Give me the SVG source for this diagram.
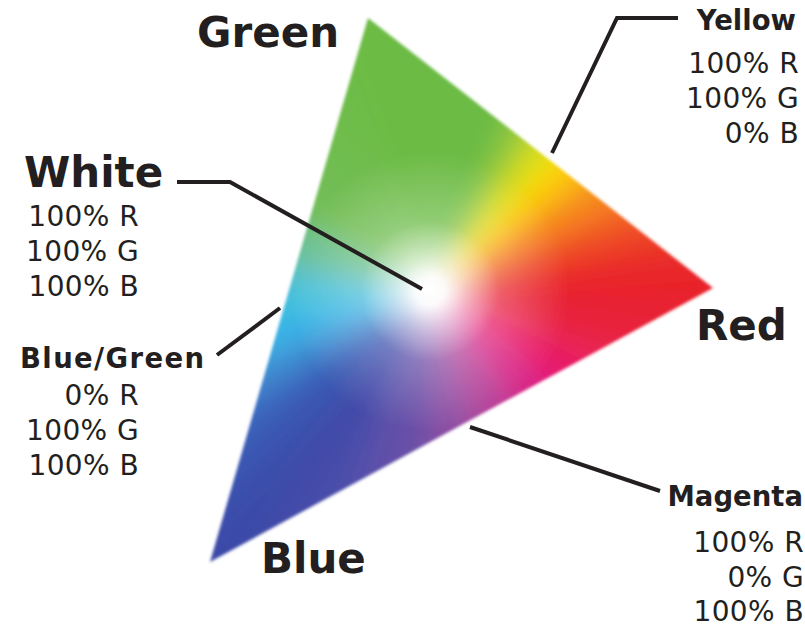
<svg xmlns="http://www.w3.org/2000/svg" width="805" height="632" viewBox="0 0 805 632">
<style>
.big{font-family:"DejaVu Sans","Verdana",sans-serif;font-weight:bold;font-size:42px;fill:#231f20}
.lab{font-family:"DejaVu Sans","Verdana",sans-serif;font-weight:bold;font-size:27.5px;fill:#231f20}
.val{font-family:"DejaVu Sans","Verdana",sans-serif;font-size:28px;letter-spacing:0.4px;fill:#231f20}
.lead{fill:none;stroke:#231f20;stroke-width:4;stroke-linejoin:miter}
</style>
<defs>
<clipPath id="tri"><polygon points="368,18 713,288 210,562"/></clipPath>
<filter id="mix" filterUnits="userSpaceOnUse" x="-120" y="-250" width="1100" height="1100"><feGaussianBlur stdDeviation="11"/></filter>
<filter id="soft" filterUnits="userSpaceOnUse" x="150" y="0" width="620" height="600"><feGaussianBlur stdDeviation="1.8"/></filter>
<radialGradient id="wh" gradientUnits="userSpaceOnUse" cx="430" cy="291" r="140">
<stop offset="0" stop-color="#fff" stop-opacity="1"/>
<stop offset="0.1" stop-color="#fff" stop-opacity="0.97"/>
<stop offset="0.25" stop-color="#fff" stop-opacity="0.68"/>
<stop offset="0.5" stop-color="#fff" stop-opacity="0.25"/>
<stop offset="1" stop-color="#fff" stop-opacity="0"/>
</radialGradient>
<linearGradient id="w1" gradientUnits="userSpaceOnUse" x1="680" y1="291" x2="667.8" y2="368.3"><stop offset="0" stop-color="#e8202a"/><stop offset="1" stop-color="#e8244a"/></linearGradient>
<linearGradient id="w2" gradientUnits="userSpaceOnUse" x1="667.8" y1="368.3" x2="634.8" y2="434.4"><stop offset="0" stop-color="#e8244a"/><stop offset="1" stop-color="#e8197a"/></linearGradient>
<linearGradient id="w3" gradientUnits="userSpaceOnUse" x1="634.8" y1="434.4" x2="580.5" y2="490.7"><stop offset="0" stop-color="#e8197a"/><stop offset="1" stop-color="#c8318f"/></linearGradient>
<linearGradient id="w4" gradientUnits="userSpaceOnUse" x1="580.5" y1="490.7" x2="507.3" y2="528.8"><stop offset="0" stop-color="#c8318f"/><stop offset="1" stop-color="#a04a9f"/></linearGradient>
<linearGradient id="w5" gradientUnits="userSpaceOnUse" x1="507.3" y1="528.8" x2="430" y2="541"><stop offset="0" stop-color="#a04a9f"/><stop offset="1" stop-color="#7c52a6"/></linearGradient>
<linearGradient id="w6" gradientUnits="userSpaceOnUse" x1="430" y1="541" x2="336.3" y2="522.8"><stop offset="0" stop-color="#7c52a6"/><stop offset="1" stop-color="#4e4eaa"/></linearGradient>
<linearGradient id="w7" gradientUnits="userSpaceOnUse" x1="336.3" y1="522.8" x2="269.3" y2="482.5"><stop offset="0" stop-color="#4e4eaa"/><stop offset="1" stop-color="#3a4aa8"/></linearGradient>
<linearGradient id="w8" gradientUnits="userSpaceOnUse" x1="269.3" y1="482.5" x2="225.2" y2="434.4"><stop offset="0" stop-color="#3a4aa8"/><stop offset="1" stop-color="#3b64bc"/></linearGradient>
<linearGradient id="w9" gradientUnits="userSpaceOnUse" x1="225.2" y1="434.4" x2="199.9" y2="388.7"><stop offset="0" stop-color="#3b64bc"/><stop offset="1" stop-color="#3fa0dc"/></linearGradient>
<linearGradient id="w10" gradientUnits="userSpaceOnUse" x1="199.9" y1="388.7" x2="183.1" y2="330.1"><stop offset="0" stop-color="#3fa0dc"/><stop offset="1" stop-color="#36c0ea"/></linearGradient>
<linearGradient id="w11" gradientUnits="userSpaceOnUse" x1="183.1" y1="330.1" x2="183.1" y2="251.9"><stop offset="0" stop-color="#36c0ea"/><stop offset="1" stop-color="#5cc0c4"/></linearGradient>
<linearGradient id="w12" gradientUnits="userSpaceOnUse" x1="183.1" y1="251.9" x2="215.7" y2="162.2"><stop offset="0" stop-color="#5cc0c4"/><stop offset="1" stop-color="#76bf5e"/></linearGradient>
<linearGradient id="w13" gradientUnits="userSpaceOnUse" x1="215.7" y1="162.2" x2="344.5" y2="56.1"><stop offset="0" stop-color="#76bf5e"/><stop offset="1" stop-color="#6cbb45"/></linearGradient>
<linearGradient id="w15" gradientUnits="userSpaceOnUse" x1="523.7" y1="59.2" x2="562.5" y2="79"><stop offset="0" stop-color="#6cbb45"/><stop offset="1" stop-color="#aed136"/></linearGradient>
<linearGradient id="w16" gradientUnits="userSpaceOnUse" x1="562.5" y1="79" x2="603.7" y2="111.2"><stop offset="0" stop-color="#aed136"/><stop offset="1" stop-color="#ffe500"/></linearGradient>
<linearGradient id="w17" gradientUnits="userSpaceOnUse" x1="603.7" y1="111.2" x2="637.3" y2="151.2"><stop offset="0" stop-color="#ffe500"/><stop offset="1" stop-color="#f8a21c"/></linearGradient>
<linearGradient id="w18" gradientUnits="userSpaceOnUse" x1="637.3" y1="151.2" x2="663.4" y2="201.4"><stop offset="0" stop-color="#f8a21c"/><stop offset="1" stop-color="#f26222"/></linearGradient>
<linearGradient id="w19" gradientUnits="userSpaceOnUse" x1="663.4" y1="201.4" x2="676.2" y2="247.6"><stop offset="0" stop-color="#f26222"/><stop offset="1" stop-color="#ea3028"/></linearGradient>
<linearGradient id="w20" gradientUnits="userSpaceOnUse" x1="676.2" y1="247.6" x2="680" y2="291"><stop offset="0" stop-color="#ea3028"/><stop offset="1" stop-color="#e8202a"/></linearGradient>
</defs>
<rect width="805" height="632" fill="#ffffff"/>
<g id="triangle" filter="url(#soft)">
<g clip-path="url(#tri)">
<g filter="url(#mix)">
<polygon points="430,291 950,291 924.6,451.7" fill="url(#w1)"/>
<polygon points="430,291 924.6,451.7 856,589.3" fill="url(#w2)"/>
<polygon points="430,291 856,589.3 742.9,706.3" fill="url(#w3)"/>
<polygon points="430,291 742.9,706.3 590.7,785.6" fill="url(#w4)"/>
<polygon points="430,291 590.7,785.6 430,811" fill="url(#w5)"/>
<polygon points="430,291 430,811 235.2,773.1" fill="url(#w6)"/>
<polygon points="430,291 235.2,773.1 95.7,689.3" fill="url(#w7)"/>
<polygon points="430,291 95.7,689.3 4,589.3" fill="url(#w8)"/>
<polygon points="430,291 4,589.3 -48.7,494.2" fill="url(#w9)"/>
<polygon points="430,291 -48.7,494.2 -83.6,372.3" fill="url(#w10)"/>
<polygon points="430,291 -83.6,372.3 -83.6,209.7" fill="url(#w11)"/>
<polygon points="430,291 -83.6,209.7 -15.7,23.2" fill="url(#w12)"/>
<polygon points="430,291 -15.7,23.2 252.2,-197.6" fill="url(#w13)"/>
<polygon points="430,291 252.2,-197.6 624.8,-191.1" fill="#6cbb45"/>
<polygon points="430,291 624.8,-191.1 705.5,-150" fill="url(#w15)"/>
<polygon points="430,291 705.5,-150 791.2,-83" fill="url(#w16)"/>
<polygon points="430,291 791.2,-83 861.1,0.2" fill="url(#w17)"/>
<polygon points="430,291 861.1,0.2 915.5,104.6" fill="url(#w18)"/>
<polygon points="430,291 915.5,104.6 942.1,200.7" fill="url(#w19)"/>
<polygon points="430,291 942.1,200.7 950,291" fill="url(#w20)"/>
</g>
<circle cx="430" cy="291" r="140" fill="url(#wh)"/>
</g>
</g>
<g id="connectors">
<polyline class="lead" points="552,153 617,18 678,18"/>
<polyline class="lead" points="422,289 230,182 177,182"/>
<polyline class="lead" points="280,308 217,355"/>
<polyline class="lead" points="470,427 660,491"/>
</g>
<g id="label-green"><text class="big" x="197" y="47">Green</text></g>
<g id="label-red"><text class="big" x="696" y="340">Red</text></g>
<g id="label-blue"><text class="big" x="261" y="573">Blue</text></g>
<g id="node-white">
<text class="big" x="24" y="187">White</text>
<text class="val" text-anchor="end" x="139" y="226">100% R</text>
<text class="val" text-anchor="end" x="139" y="261">100% G</text>
<text class="val" text-anchor="end" x="139" y="296">100% B</text>
</g>
<g id="node-yellow">
<text class="lab" text-anchor="end" x="796" y="30">Yellow</text>
<text class="val" text-anchor="end" x="799" y="73">100% R</text>
<text class="val" text-anchor="end" x="799" y="108">100% G</text>
<text class="val" text-anchor="end" x="799" y="143">0% B</text>
</g>
<g id="node-bluegreen">
<text class="lab" x="20" y="368" textLength="184" lengthAdjust="spacing">Blue/Green</text>
<text class="val" text-anchor="end" x="139" y="405">0% R</text>
<text class="val" text-anchor="end" x="139" y="440">100% G</text>
<text class="val" text-anchor="end" x="139" y="475">100% B</text>
</g>
<g id="node-magenta">
<text class="lab" text-anchor="end" x="803" y="506">Magenta</text>
<text class="val" text-anchor="end" x="804" y="552">100% R</text>
<text class="val" text-anchor="end" x="804" y="587">0% G</text>
<text class="val" text-anchor="end" x="804" y="621">100% B</text>
</g>
</svg>
